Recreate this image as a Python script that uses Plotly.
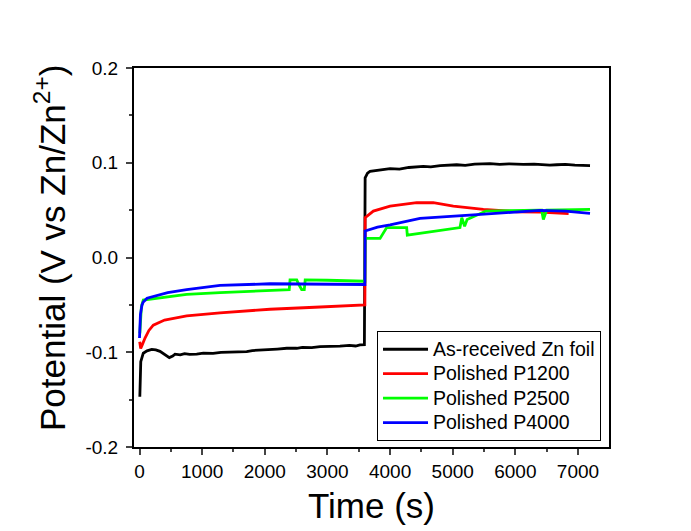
import plotly.graph_objects as go

# ---- data ----
black_t = [5, 12, 20, 60, 120, 195, 260, 327, 400, 476, 530, 567, 650, 720, 800, 913, 1019, 1175, 1300, 1445, 1551,
           1711, 1800, 1950, 2083, 2200, 2350, 2510, 2600, 2750, 2882, 3041, 3200, 3350, 3450, 3520, 3590,
           3602, 3640, 3680, 3850, 4000, 4150, 4300, 4531, 4650, 4800, 5064, 5200, 5350, 5596, 5750, 5900, 6127,
           6300, 6400, 6550, 6660, 6800, 6950, 7100, 7192]
black_v = [-0.147, -0.125, -0.110, -0.101, -0.0985, -0.097, -0.0975, -0.099, -0.1025, -0.1056, -0.104, -0.102,
           -0.1028, -0.1015, -0.1022, -0.102, -0.101, -0.1012, -0.1002, -0.1, -0.0993,
           -0.0993, -0.0982, -0.0978, -0.0976, -0.0966, -0.0958, -0.0958, -0.0948, -0.0952, -0.094, -0.094, -0.0935,
           -0.0928, -0.0934, -0.0923, -0.092,
           0.084, 0.089, 0.0909, 0.0925, 0.0937, 0.0932, 0.095, 0.0961, 0.0957, 0.097, 0.0979, 0.0972, 0.0985, 0.099,
           0.0983, 0.0988, 0.0982, 0.0986, 0.098, 0.0975, 0.0979, 0.0982, 0.0975, 0.0968, 0.0969]

red_t = [3, 19, 45, 88, 150, 220, 400, 753, 1285, 2083, 2800, 3573, 3598,
         3602, 3733, 4000, 4425, 4690, 5010, 5489, 6022, 6394, 6850]
red_v = [-0.089, -0.096, -0.092, -0.085, -0.077, -0.0714, -0.066, -0.0616, -0.0585, -0.0546, -0.0525, -0.0505, -0.050,
         0.042, 0.049, 0.0543, 0.0578, 0.0578, 0.0543, 0.0508, 0.0483, 0.048, 0.0463]

green_t = [5, 30, 60, 220, 753, 1285, 2083, 2390, 2403, 2510, 2540, 2589, 2630, 2645, 3000, 3573, 3598,
           3602, 3840, 3946, 4265, 4275, 5116, 5145, 5190, 5230, 5530, 6386, 6420, 6447, 6500, 7192]
green_v = [-0.08, -0.052, -0.045, -0.0435, -0.039, -0.037, -0.0354, -0.034, -0.0236, -0.0236, -0.028, -0.034, -0.034,
           -0.0236, -0.024, -0.025, -0.025,
           0.0201, 0.0201, 0.0316, 0.0316, 0.0236, 0.0316, 0.042, 0.033, 0.040, 0.049, 0.050, 0.050, 0.040, 0.050,
           0.0508]

blue_t = [0, 15, 40, 60, 120, 220, 450, 753, 1285, 2083, 2800, 3573, 3598,
          3602, 3800, 4000, 4265, 4478, 5330, 6394, 6800, 7192]
blue_v = [-0.085, -0.06, -0.05, -0.047, -0.043, -0.041, -0.037, -0.034, -0.0295, -0.0277, -0.0278, -0.0285, -0.0285,
          0.028, 0.032, 0.0345, 0.0386, 0.0414, 0.0449, 0.0497, 0.049, 0.0466]

names = ["As-received Zn foil", "Polished P1200", "Polished P2500", "Polished P4000"]
colors = ["#000000", "#FF0000", "#00FF00", "#0000FF"]

x_ticks = [0, 1000, 2000, 3000, 4000, 5000, 6000, 7000]
y_ticks = [-0.2, -0.1, 0.0, 0.1, 0.2]
y_ticktext = ["-0.2", "-0.1", "0.0", "0.1", "0.2"]

FONT = "Arial, Liberation Sans, sans-serif"

fig = go.Figure()
for t, v, n, c in zip([black_t, red_t, green_t, blue_t], [black_v, red_v, green_v, blue_v], names, colors):
    fig.add_trace(go.Scatter(x=t, y=v, mode="lines",
                             name='<span style="font-size:19.5px">' + n + '</span>',
                             line=dict(color=c, width=2.8)))

# page body has an 8px default margin; the figure is sized to fit the window
fig.update_layout(
    width=683, height=523,
    margin=dict(l=126, r=82, t=59.5, b=81.5),
    paper_bgcolor="white", plot_bgcolor="white",
    font=dict(family=FONT, color="black"),
    showlegend=True,
    legend=dict(x=0.5116, y=0.306, xanchor="left", yanchor="top",
                bordercolor="black", borderwidth=1, bgcolor="white",
                font=dict(size=16.5, family=FONT), tracegroupgap=0, itemwidth=45),
    annotations=[dict(text="Potential (V vs Zn/Zn<sup>2+</sup>)", xref="paper", yref="paper",
                      x=-0.1768, y=0.525, xanchor="center", yanchor="middle", textangle=-90,
                      showarrow=False, font=dict(size=35, family=FONT))],
)
fig.update_xaxes(
    range=[-88, 7495], tickvals=x_ticks, ticks="outside", ticklen=6, tickwidth=2,
    showline=True, linecolor="black", linewidth=2, mirror=True, showgrid=False, zeroline=False,
    tickfont=dict(size=19, family=FONT),
    minor=dict(dtick=500, tick0=0, ticks="outside", ticklen=3, tickwidth=2, showgrid=False),
    title=dict(text="Time (s)", font=dict(size=35, family=FONT), standoff=13),
)
fig.update_yaxes(
    range=[-0.2, 0.2], tickvals=y_ticks, ticktext=y_ticktext, ticks="outside", ticklen=6, tickwidth=2,
    showline=True, linecolor="black", linewidth=2, mirror=True, showgrid=False, zeroline=False,
    tickfont=dict(size=19, family=FONT), ticklabelstandoff=4,
    minor=dict(dtick=0.05, tick0=0, ticks="outside", ticklen=3, tickwidth=2, showgrid=False),
)

fig.write_html("out.html")
